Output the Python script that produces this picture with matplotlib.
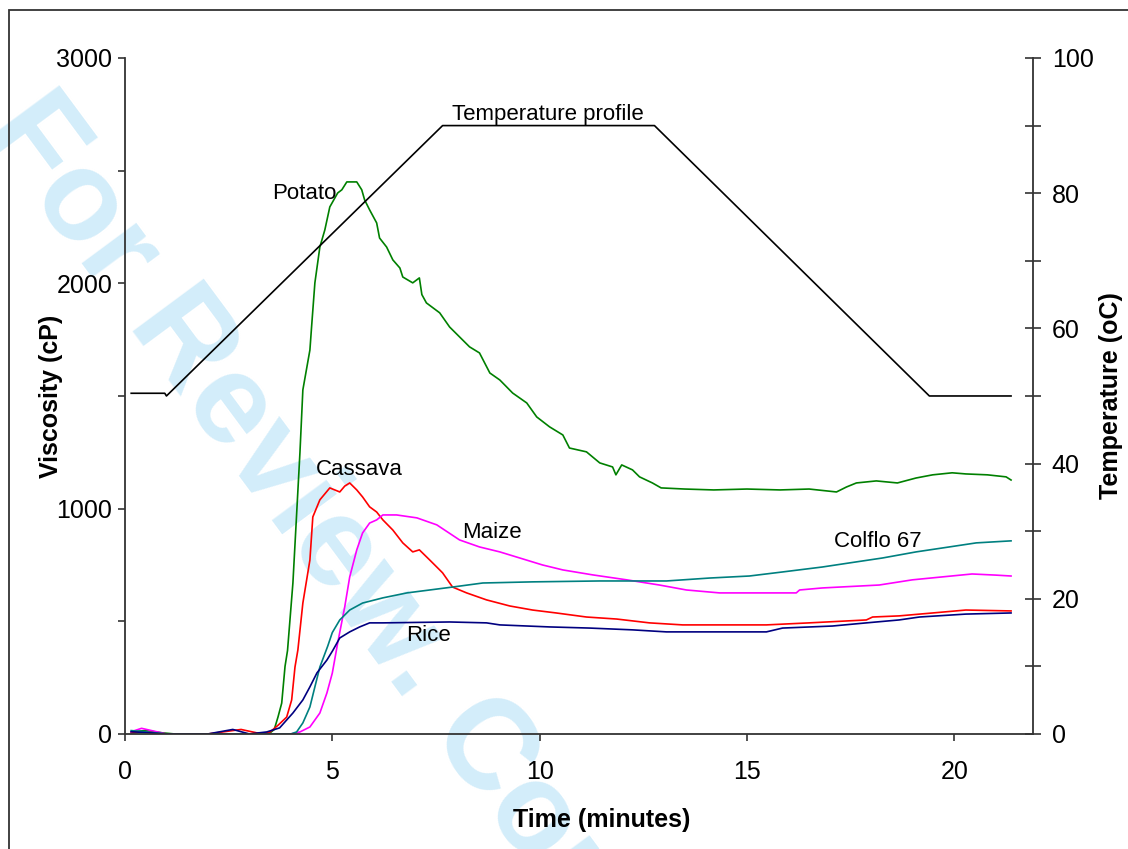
import matplotlib
matplotlib.use("Agg")
import matplotlib.pyplot as plt
from matplotlib.patches import Rectangle

plt.rcParams['font.family'] = ['Liberation Sans', 'DejaVu Sans']

# viscosity traces (time in minutes, viscosity in cP)
potato_t = [0.15, 0.5, 0.9, 1.2, 2.0, 3.0, 3.5, 3.6, 3.69, 3.78, 3.86, 3.92, 4.05, 4.22, 4.29,
            4.46, 4.5, 4.58, 4.7, 4.82, 4.94, 5.13, 5.23, 5.35, 5.59, 5.71, 5.78, 5.9, 6.07,
            6.14, 6.31, 6.46, 6.63, 6.7, 6.94, 7.1, 7.16, 7.27, 7.59, 7.83, 8.07, 8.31, 8.55,
            8.8, 9.04, 9.35, 9.69, 9.93, 10.24, 10.56, 10.72, 11.13, 11.45, 11.76, 11.84,
            11.98, 12.24, 12.41, 12.72, 12.93, 13.5, 14.2, 15.0, 15.8, 16.5, 17.16, 17.4,
            17.64, 18.12, 18.63, 19.08, 19.48, 19.95, 20.28, 20.8, 21.25, 21.37]
potato_v = [10, 15, 5, 0, 0, 0, 5, 20, 75, 137, 300, 370, 670, 1250, 1527,
            1704, 1806, 2002, 2161, 2237, 2339, 2401, 2415, 2450, 2450, 2415, 2370, 2326, 2268,
            2201, 2161, 2104, 2068, 2028, 2002, 2024, 1950, 1913, 1869, 1806, 1762, 1718, 1691,
            1602, 1571, 1513, 1469, 1407, 1363, 1327, 1269, 1252, 1203, 1185, 1150,
            1194, 1172, 1141, 1114, 1092, 1087, 1083, 1087, 1083, 1087, 1074, 1096,
            1114, 1123, 1114, 1136, 1150, 1159, 1154, 1150, 1141, 1127]

cassava_t = [0.15, 0.6, 1.0, 2.0, 2.8, 3.3, 3.5, 3.7, 3.9, 4.02, 4.1, 4.17, 4.29, 4.46, 4.53,
             4.7, 4.94, 5.18, 5.3, 5.42, 5.59, 5.73, 5.9, 6.07, 6.22, 6.46, 6.7, 6.94, 7.1,
             7.35, 7.59, 7.66, 7.9, 8.24, 8.72, 9.28, 9.83, 10.4, 11.13, 11.86, 12.65, 13.45,
             14.34, 15.47, 16.5, 17.88, 18.03, 18.67, 19.48, 20.28, 21.37]
cassava_v = [5, 10, 0, 0, 20, 0, 9, 40, 75, 151, 297, 373, 581, 772, 963,
             1039, 1092, 1074, 1100, 1114, 1083, 1052, 1008, 985, 950, 905, 848, 808, 817,
             772, 728, 715, 652, 626, 595, 568, 550, 537, 519, 510, 493, 484,
             484, 484, 493, 506, 519, 524, 537, 550, 546]

maize_t = [0.15, 0.4, 1.0, 2.0, 3.0, 4.0, 4.22, 4.46, 4.7, 4.87, 5.0, 5.13, 5.3, 5.42, 5.59,
           5.73, 5.9, 6.07, 6.22, 6.55, 7.04, 7.52, 8.07, 8.55, 9.04, 9.52, 10.07, 10.56,
           11.28, 12.1, 12.89, 13.54, 14.34, 15.2, 16.19, 16.27, 16.82, 18.19, 18.99, 20.43,
           21.0, 21.37]
maize_v = [10, 25, 0, 0, 0, 0, 9, 31, 93, 182, 270, 404, 564, 697, 817,
           892, 936, 950, 972, 972, 959, 928, 861, 830, 808, 781, 750, 728,
           706, 684, 661, 639, 626, 626, 626, 639, 648, 661, 684, 710,
           705, 701]

colflo_t = [0.15, 0.5, 1.0, 2.0, 3.0, 4.0, 4.14, 4.29, 4.46, 4.58, 4.7, 4.89, 5.0, 5.18,
            5.42, 5.73, 6.22, 6.8, 7.35, 7.9, 8.63, 9.83, 11.45, 13.06, 14.1, 15.06, 15.86,
            16.82, 17.47, 18.27, 19.08, 19.88, 20.53, 21.37]
colflo_v = [15, 10, 0, 0, 0, 0, 9, 49, 120, 209, 297, 390, 450, 506,
            550, 581, 604, 626, 639, 652, 670, 675, 679, 679, 692, 701, 719,
            741, 759, 781, 808, 830, 848, 857]

rice_t = [0.15, 0.6, 1.0, 2.0, 2.6, 3.0, 3.42, 3.73, 4.05, 4.29, 4.46, 4.63, 4.87, 5.01,
          5.18, 5.42, 5.66, 5.9, 6.22, 7.83, 8.72, 9.04, 10.24, 11.2, 12.24, 13.06, 14.34,
          15.47, 15.86, 17.06, 17.88, 18.67, 19.16, 20.28, 21.37]
rice_v = [10, 5, 0, 0, 20, 0, 9, 27, 93, 151, 209, 271, 328, 370,
          426, 453, 475, 493, 493, 497, 493, 484, 475, 470, 462, 453, 453,
          453, 470, 479, 493, 506, 519, 532, 537]

# temperature programme (oC)
temp_t = [0.15, 0.96, 1.0, 7.66, 12.77, 19.4, 21.37]
temp_c = [50.4, 50.4, 50, 90, 90, 50, 50]

fig = plt.figure(figsize=(11.28, 8.49), dpi=100)

# review watermark behind everything
fig.text(0.008, 0.87, "For Review. Confidential - ACS", fontsize=92, fontweight='bold',
         color='#d3edfa', rotation=-53.5, rotation_mode='anchor', ha='left', va='center',
         zorder=-5)

# frame round the figure
fig.add_artist(Rectangle((0.008, -0.02), 1.1, 1.008, transform=fig.transFigure,
                         fill=False, edgecolor='#333333', lw=1.3, zorder=1))

ax = fig.add_axes([0.1108, 0.1355, 0.805, 0.7962])
ax.patch.set_visible(False)
ax2 = ax.twinx()
ax2.patch.set_visible(False)

lw = 1.2
ax.plot(potato_t, potato_v, color='#008000', lw=lw)
ax.plot(cassava_t, cassava_v, color='#ff0000', lw=lw)
ax.plot(maize_t, maize_v, color='#ff00ff', lw=lw)
ax.plot(colflo_t, colflo_v, color='#008080', lw=lw)
ax.plot(rice_t, rice_v, color='#000080', lw=lw)
ax2.plot(temp_t, temp_c, color='black', lw=lw)

ax.set_xlim(0, 21.9)
ax.set_ylim(0, 3000)
ax2.set_ylim(0, 100)

spine_col = '#333333'
for s in ['top', 'right']:
    ax.spines[s].set_visible(False)
for s in ['top', 'left', 'bottom']:
    ax2.spines[s].set_visible(False)
for s in ['left', 'bottom']:
    ax.spines[s].set_color(spine_col)
    ax.spines[s].set_linewidth(1.3)
ax2.spines['right'].set_color(spine_col)
ax2.spines['right'].set_linewidth(1.3)

ax.set_xticks([0, 5, 10, 15, 20])
ax.set_yticks([0, 1000, 2000, 3000])
ax.set_yticks([500, 1500, 2500], minor=True)
ax.tick_params(axis='x', direction='out', length=5, width=1.2, color=spine_col,
               labelsize=18, pad=14)
ax.tick_params(axis='y', which='both', direction='out', length=5, width=1.2,
               color=spine_col, labelsize=18, pad=4)
ax2.set_yticks([0, 20, 40, 60, 80, 100])
ax2.set_yticks([10, 30, 50, 70, 90], minor=True)
ax2.tick_params(axis='y', which='both', direction='inout', length=11, width=1.2,
                color=spine_col, labelsize=18, pad=8)

ax.set_xlabel('Time (minutes)', fontsize=18, fontweight='bold')
ax.xaxis.set_label_coords(0.525, -0.11)
ax.set_ylabel('Viscosity (cP)', fontsize=18, fontweight='bold')
ax.yaxis.set_label_coords(-0.068, 0.5)
ax2.set_ylabel('Temperature (oC)', fontsize=18, fontweight='bold')
ax2.yaxis.set_label_coords(1.073, 0.5)

# series labels
fs = 16
ax.text(7.88, 2747, 'Temperature profile', fontsize=fs, va='center')
ax.text(3.55, 2397, 'Potato', fontsize=fs, va='center')
ax.text(4.6, 1172, 'Cassava', fontsize=fs, va='center')
ax.text(8.12, 892, 'Maize', fontsize=fs, va='center')
ax.text(17.1, 852, 'Colflo 67', fontsize=fs, va='center')
ax.text(6.77, 435, 'Rice', fontsize=fs, va='center')

fig.savefig('out.png', dpi=100)
